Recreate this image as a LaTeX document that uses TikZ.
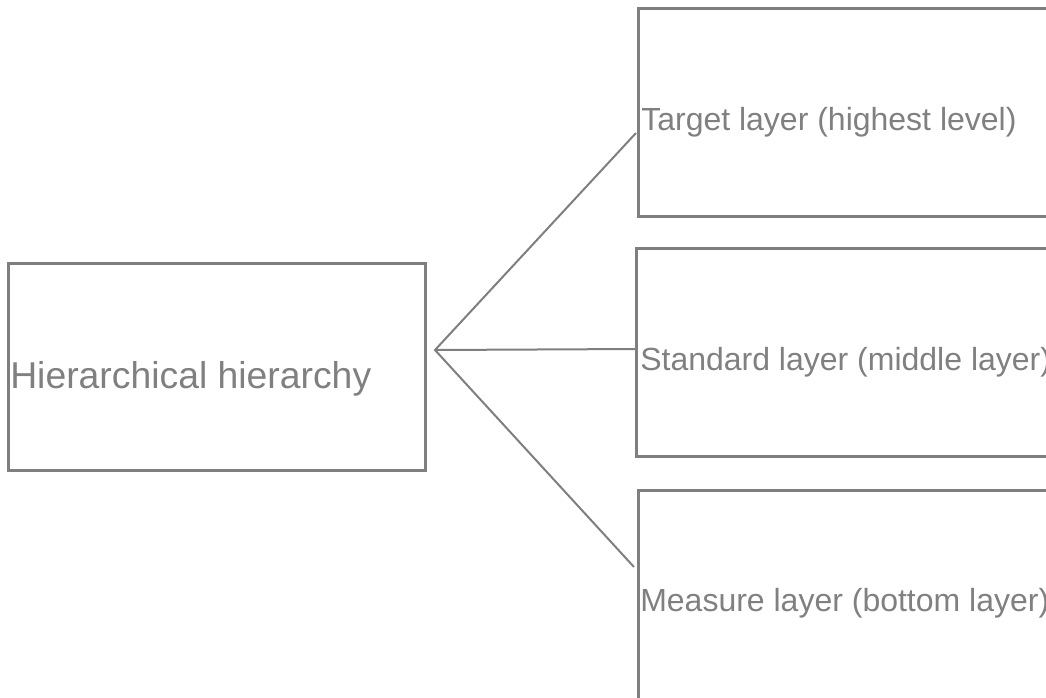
\documentclass[tikz,border=0pt]{standalone}
\usepackage{fontspec}
\setmainfont{Liberation Sans}
\definecolor{boxgray}{HTML}{7F7F7F}
\definecolor{textgray}{HTML}{808080}
\begin{document}
\begin{tikzpicture}[x=0.75pt,y=-0.75pt,
  boxstyle/.style={draw=boxgray,line width=2.25pt,rectangle,inner sep=0pt},
  bigtext/.style={inner sep=0pt,anchor=base west,text=textgray,font=\fontsize{28pt}{33pt}\selectfont},
  smalltext/.style={inner sep=0pt,anchor=base west,text=textgray,font=\fontsize{24pt}{28pt}\selectfont},
  link/.style={draw=boxgray,line width=1.5pt}]
\useasboundingbox (0,0) rectangle (1046,697);
\clip (0,0) rectangle (1046,697);
% boxes
\node[boxstyle,minimum width=313.1pt,minimum height=155.6pt] (root) at (217.25,367.25) {};
\node[boxstyle,minimum width=345.9pt,minimum height=155.8pt] (top) at (869.35,112.15) {};
\node[boxstyle,minimum width=347.5pt,minimum height=155.8pt] (mid) at (868.35,352.15) {};
\node[boxstyle,minimum width=346.3pt,minimum height=172pt] (bot) at (869.15,605.35) {};
% texts
\node[bigtext] (roottext) at (10,388) {Hierarchical hierarchy};
\node[smalltext] (toptext) at (641,130) {Target layer (highest level)};
\node[smalltext] (midtext) at (640,370) {Standard layer (middle layer)};
\node[smalltext] (bottext) at (640,611) {Measure layer (bottom layer)};
% connectors
\coordinate (hub) at (435,350);
\coordinate (e1) at (636,133);
\coordinate (e2) at (636,349);
\coordinate (e3) at (634,567);
\draw[link] (e1) -- (hub) -- (e3);
\draw[link] (hub) -- (e2);
\end{tikzpicture}
\end{document}
